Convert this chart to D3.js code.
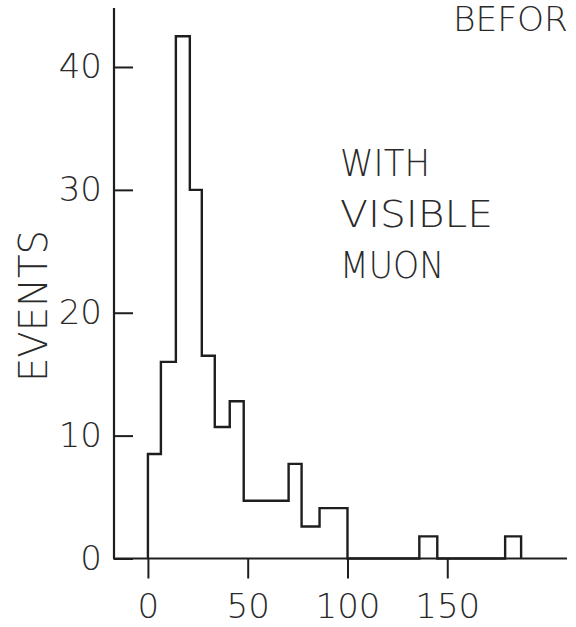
<!DOCTYPE html>
<html>
<head>
<meta charset="utf-8">
<script src="https://cdn.jsdelivr.net/npm/d3@7"></script>
<style>
  body { margin: 0; background: #fff; }
  svg { display: block; }
  text { font-family: "DejaVu Sans", sans-serif; font-weight: 300; fill: #2a2a2a; }
</style>
</head>
<body>
<svg></svg>
<script>
// Histogram bin edges (x units) and events per bin
const binEdges = [0, 6.5, 14, 21, 27, 33.5, 41, 48, 70.5, 77, 86, 100, 136, 145, 179, 187];
const binCounts = [8.5, 16, 42.5, 30, 16.5, 10.7, 12.8, 4.7, 7.7, 2.6, 4.1, 0, 1.8, 0, 1.8];

const xTicks = [0, 50, 100, 150];
const yTicks = [0, 10, 20, 30, 40];
const noteLines = ['WITH', 'VISIBLE', 'MUON'];
const cornerLabel = 'BEFOR';
const yLabel = 'EVENTS';

const width = 576, height = 627;
const ink = '#1e1e1e';

const svg = d3.select('svg')
    .attr('width', width)
    .attr('height', height);

// axis line runs a bit past both ends of the data
const x = d3.scaleLinear().domain([-17.5, 210]).range([113, 567]);
const y = d3.scaleLinear().domain([0, 44.8]).range([558.5, 8]);

// step outline of the histogram
const pts = [[binEdges[0], 0]];
binCounts.forEach((c, i) => {
    pts.push([binEdges[i], c]);
    pts.push([binEdges[i + 1], c]);
});
pts.push([binEdges[binEdges.length - 1], 0]);

svg.append('path')
    .datum(pts)
    .attr('fill', 'none')
    .attr('stroke', ink)
    .attr('stroke-width', 2.4)
    .attr('stroke-linejoin', 'miter')
    .attr('d', d3.line().x(d => x(d[0])).y(d => y(d[1])));

// x axis
const gx = svg.append('g')
    .attr('transform', 'translate(0,' + y(0) + ')')
    .call(d3.axisBottom(x).tickValues(xTicks).tickSize(20).tickPadding(15));
gx.select('.domain').remove();
gx.append('line')
    .attr('x1', x.range()[0]).attr('x2', x.range()[1])
    .attr('stroke', ink).attr('stroke-width', 2.2);

// y axis, ticks point inward
const gy = svg.append('g')
    .attr('transform', 'translate(114,0)')
    .call(d3.axisLeft(y).tickValues(yTicks).tickSize(-19).tickPadding(12));
gy.select('.domain').remove();
gy.append('line')
    .attr('y1', y.range()[0]).attr('y2', y.range()[1])
    .attr('stroke', ink).attr('stroke-width', 2.2);

svg.selectAll('.tick line').attr('stroke', ink).attr('stroke-width', 2);
svg.selectAll('.tick text')
    .attr('fill', '#2a2a2a')
    .style('font-family', '"DejaVu Sans", sans-serif')
    .style('font-weight', 300)
    .style('font-size', '34px');

// axis title
svg.append('text')
    .attr('transform', 'translate(47,382) rotate(-90)')
    .attr('textLength', 152)
    .attr('lengthAdjust', 'spacingAndGlyphs')
    .style('font-size', '39px')
    .text(yLabel);

// annotation
const noteLens = [90, 153, 104];
svg.append('g').selectAll('text')
    .data(noteLines)
    .enter().append('text')
        .attr('x', 340)
        .attr('y', (d, i) => 176 + i * 51)
        .attr('textLength', (d, i) => noteLens[i])
        .attr('lengthAdjust', 'spacingAndGlyphs')
        .style('font-size', '37px')
        .text(d => d);

svg.append('text')
    .attr('x', 453)
    .attr('y', 31)
    .attr('textLength', 115)
    .attr('lengthAdjust', 'spacingAndGlyphs')
    .style('font-size', '34px')
    .text(cornerLabel);
</script>
</body>
</html>
